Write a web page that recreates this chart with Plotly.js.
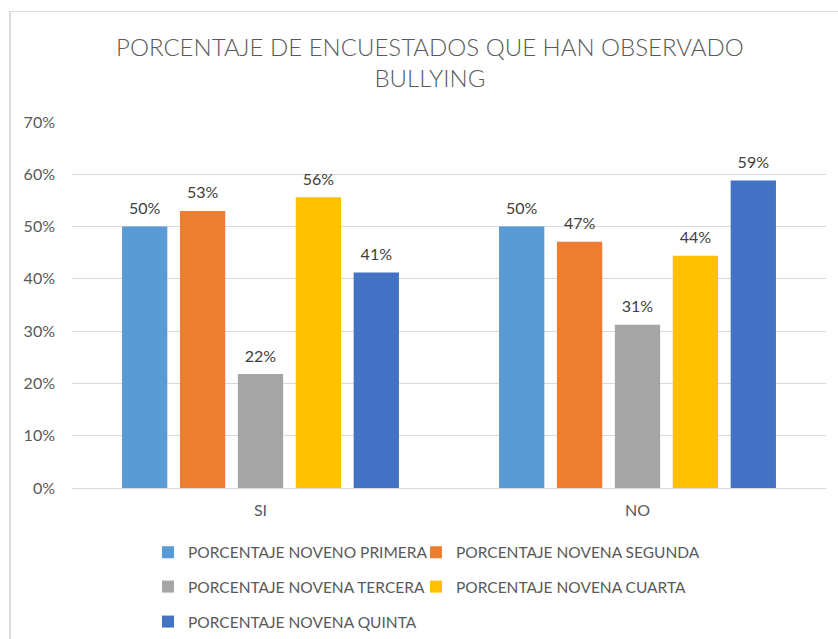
<!DOCTYPE html>
<html>
<head>
<meta charset="utf-8">
<script src="https://cdn.plot.ly/plotly-3.0.1.min.js"></script>
<style>
  html, body { margin: 0; padding: 0; background: #fff; }
  #wrap { position: relative; width: 838px; height: 639px; overflow: hidden; }
  #chart { position: absolute; left: 0; top: 0; width: 838px; height: 639px; }
  #frame { position: absolute; left: 9px; top: 11px; width: 900px; height: 700px;
           border-left: 2px solid #d9d9d9; border-top: 1px solid #d9d9d9;
           pointer-events: none; box-sizing: border-box; }
</style>
</head>
<body>
<div id="wrap">
  <div id="chart"></div>
  <div id="frame"></div>
</div>
<script>
const categories = ['SI', 'NO'];
const seriesNames = [
  'PORCENTAJE NOVENO PRIMERA',
  'PORCENTAJE NOVENA SEGUNDA',
  'PORCENTAJE NOVENA TERCERA',
  'PORCENTAJE NOVENA CUARTA',
  'PORCENTAJE NOVENA QUINTA'
];
const primera = [0.50, 0.50];
const segunda = [0.530, 0.471];
const tercera = [0.218, 0.312];
const cuarta  = [0.556, 0.444];
const quinta  = [0.412, 0.588];
const seriesValues = [primera, segunda, tercera, cuarta, quinta];
const colors = ['#5B9BD5', '#ED7D31', '#A5A5A5', '#FFC000', '#4472C4'];
const legendIds = ['legend', 'legend2', 'legend3', 'legend4', 'legend5'];
const yTickVals = [0, 0.1, 0.2, 0.3, 0.4, 0.5, 0.6, 0.7];

const FONT = 'Lato, "Open Sans", sans-serif';
const traces = [];
seriesValues.forEach((vals, i) => {
  traces.push({
    type: 'bar', x: categories, y: vals, name: seriesNames[i],
    marker: { color: colors[i] }, legend: legendIds[i],
    hoverinfo: 'skip'
  });
});
seriesValues.forEach((vals, i) => {
  traces.push({
    type: 'scatter', mode: 'markers+text', x: categories, y: vals,
    orientation: 'v', showlegend: false, hoverinfo: 'skip',
    marker: { size: 12, opacity: 0, color: colors[i] },
    texttemplate: '%{y:.0%}', textposition: 'top center',
    textfont: { family: FONT, size: 16, color: '#404040' },
    cliponaxis: false
  });
});

const legendBase = {
  orientation: 'h', xanchor: 'left', yanchor: 'middle',
  font: { family: FONT, size: 15.5, color: '#595959' },
  bgcolor: 'rgba(0,0,0,0)', itemclick: false, itemdoubleclick: false
};
const mkLegend = (x, y) => Object.assign({}, legendBase, { x: x, y: y });

const layout = {
  width: 838, height: 639,
  margin: { l: 72, r: 12, t: 122, b: 151, autoexpand: false },
  paper_bgcolor: '#ffffff', plot_bgcolor: '#ffffff',
  title: {
    text: 'PORCENTAJE DE ENCUESTADOS QUE HAN OBSERVADO<br>BULLYING',
    font: { family: FONT, size: 24, color: '#595959', weight: 300 },
    x: 0.513, xref: 'container', xanchor: 'center',
    y: 0.913, yref: 'container', yanchor: 'middle'
  },
  barmode: 'group', bargap: 0.232, bargroupgap: 0.218,
  scattermode: 'group', scattergap: 0.232,
  showlegend: true,
  legend:  mkLegend(0.1008, -0.1768),
  legend2: mkLegend(0.4562, -0.1768),
  legend3: mkLegend(0.1008, -0.2705),
  legend4: mkLegend(0.4562, -0.2705),
  legend5: mkLegend(0.1008, -0.3661),
  xaxis: {
    type: 'category', showgrid: false, zeroline: false,
    showline: false, ticks: '',
    tickfont: { family: FONT, size: 16, color: '#595959' },
    ticklabelstandoff: 11
  },
  yaxis: {
    range: [0, 0.7], tickvals: yTickVals, tickformat: '.0%',
    showgrid: true, gridcolor: '#d9d9d9', gridwidth: 1,
    zeroline: true, zerolinecolor: '#d9d9d9', zerolinewidth: 1,
    showline: false, ticks: '',
    tickfont: { family: FONT, size: 16, color: '#595959' },
    ticklabelstandoff: 16
  },
  font: { family: FONT }
};

Plotly.newPlot('chart', traces, layout, { displayModeBar: false, staticPlot: true });
</script>
</body>
</html>
